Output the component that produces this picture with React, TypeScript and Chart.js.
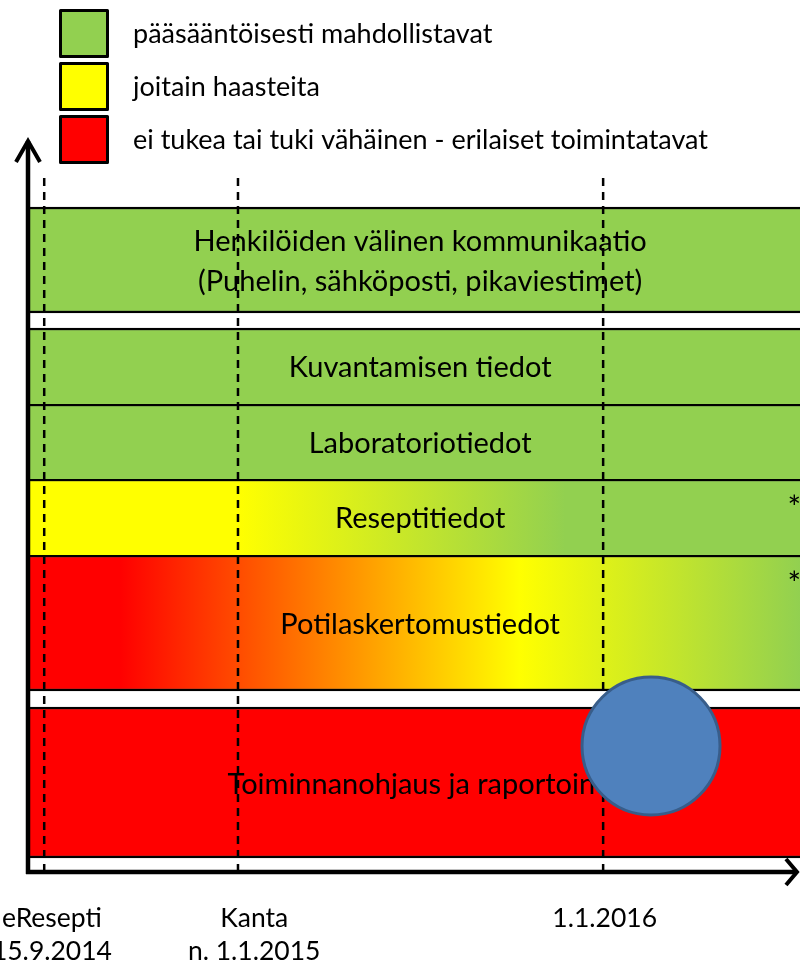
import React, { useEffect, useRef } from 'react';
import { Chart, registerables } from 'chart.js';

Chart.register(...registerables);

const FONT = 'Lato, "Open Sans", sans-serif';

// Legend
const legendLabels = [
  'pääsääntöisesti mahdollistavat',
  'joitain haasteita',
  'ei tukea tai tuki vähäinen - erilaiset toimintatavat',
];
const legendColors = ['#92D050', '#FFFF00', '#FF0000'];

// Bands (vertical extent in schematic y units, 0 = time axis)
const bandNames = [
  ['Henkilöiden välinen kommunikaatio', '(Puhelin, sähköposti, pikaviestimet)'],
  ['Kuvantamisen tiedot'],
  ['Laboratoriotiedot'],
  ['Reseptitiedot'],
  ['Potilaskertomustiedot'],
  ['Toiminnanohjaus ja raportointi'],
];
const bandLow = [55.9, 46.8, 39.3, 31.7, 18.1, 1.4];
const bandHigh = [66.5, 54.4, 46.8, 39.3, 31.7, 16.5];
const bandNotes = ['', '', '', '*', '*', ''];

// Colour change along the timeline (x units 0..100) for each band
const bandStopX = [[0], [0], [0], [27.2, 69.6], [11.9, 63.7, 100], [0]];
const bandStopColor = [
  ['#92D050'],
  ['#92D050'],
  ['#92D050'],
  ['#FFFF00', '#92D050'],
  ['#FF0000', '#FFFF00', '#92D050'],
  ['#FF0000'],
];

// Milestones on the timeline
const milestoneX = [2.1, 27.2, 74.5];
const milestoneLabelX = [3.1, 29.3, 74.7];
const milestoneLabels = [['eResepti', '15.9.2014'], ['Kanta', 'n. 1.1.2015'], ['1.1.2016']];
const milestoneTop = 69.4;

// Marker circle
const markerPoint = [{ x: 80.7, y: 12.6, r: 69 }];

const X_MAX = 100;
const Y_MAX = 73.5;
const BAR_TEXT_X = 50.8;

const legendPlugin = {
  id: 'customLegend',
  afterDraw(chart: any) {
    const ctx = chart.ctx;
    const left = chart.chartArea.left + 32;
    ctx.save();
    legendLabels.forEach((label, i) => {
      const top = 10 + i * 53;
      ctx.fillStyle = legendColors[i];
      ctx.strokeStyle = '#000';
      ctx.lineWidth = 3;
      ctx.lineJoin = 'round';
      ctx.beginPath();
      ctx.rect(left + 0.5, top + 0.5, 47, 46);
      ctx.fill();
      ctx.stroke();
      ctx.fillStyle = '#000';
      ctx.font = `27px ${FONT}`;
      ctx.textBaseline = 'middle';
      ctx.textAlign = 'left';
      ctx.fillText(label, left + 73, top + 24);
    });
    ctx.restore();
  },
};

const barTextPlugin = {
  id: 'barText',
  afterDatasetDraw(chart: any, args: any) {
    const meta = args.meta;
    if (meta.type !== 'bar') return;
    const i = args.index;
    const el = meta.data[0];
    if (!el) return;
    const top = Math.min(el.y, el.base);
    const bottom = Math.max(el.y, el.base);
    const cx = chart.scales.x2.getPixelForValue(BAR_TEXT_X);
    const cy = (top + bottom) / 2 + 2;
    const ctx = chart.ctx;
    ctx.save();
    ctx.fillStyle = '#000';
    ctx.font = `29px ${FONT}`;
    ctx.textAlign = 'center';
    ctx.textBaseline = 'middle';
    const lines = bandNames[i];
    const lh = 40;
    lines.forEach((t, k) => {
      ctx.fillText(t, cx, cy + (k - (lines.length - 1) / 2) * lh);
    });
    if (bandNotes[i]) {
      ctx.font = `32px ${FONT}`;
      ctx.textAlign = 'right';
      ctx.fillText(bandNotes[i], chart.chartArea.right + 1, top + 30);
    }
    ctx.restore();
  },
};

const axesPlugin = {
  id: 'arrowAxes',
  afterDatasetsDraw(chart: any) {
    const ctx = chart.ctx;
    const xs = chart.scales.x2;
    const ys = chart.scales.y;
    const x0 = xs.getPixelForValue(0);
    const y0 = ys.getPixelForValue(0);
    const yTop = ys.getPixelForValue(Y_MAX) + 4;
    const xEnd = xs.getPixelForValue(X_MAX) - 3;
    ctx.save();
    ctx.strokeStyle = '#000';
    ctx.lineWidth = 4.5;
    ctx.lineJoin = 'miter';
    ctx.lineCap = 'butt';
    ctx.beginPath();
    ctx.moveTo(x0, y0 + 2);
    ctx.lineTo(x0, yTop);
    ctx.moveTo(x0 - 2, y0);
    ctx.lineTo(xEnd, y0);
    ctx.stroke();
    ctx.lineWidth = 4;
    ctx.beginPath();
    ctx.moveTo(x0 - 12, yTop + 21);
    ctx.lineTo(x0, yTop);
    ctx.lineTo(x0 + 12, yTop + 21);
    ctx.moveTo(xEnd - 11, y0 - 13);
    ctx.lineTo(xEnd, y0);
    ctx.lineTo(xEnd - 11, y0 + 13);
    ctx.stroke();

    // milestone labels under the time axis
    ctx.fillStyle = '#000';
    ctx.font = `26.5px ${FONT}`;
    ctx.textAlign = 'center';
    ctx.textBaseline = 'middle';
    milestoneLabels.forEach((lines, i) => {
      const px = xs.getPixelForValue(milestoneLabelX[i]);
      lines.forEach((t, k) => ctx.fillText(t, px, y0 + 46 + k * 33));
    });
    ctx.restore();
  },
};

export default function App() {
  const canvasRef = useRef<HTMLCanvasElement | null>(null);

  useEffect(() => {
    document.body.style.margin = '0';
    document.body.style.overflow = 'hidden';
    const canvas = canvasRef.current;
    if (!canvas) return;

    const barDatasets = bandNames.map((name, i) => ({
      type: 'bar' as const,
      label: name.join(' '),
      data: [[bandLow[i], bandHigh[i]]],
      xAxisID: 'x',
      yAxisID: 'y',
      grouped: false,
      categoryPercentage: 1,
      barPercentage: 1,
      order: 3,
      borderColor: '#000',
      borderSkipped: false as const,
      borderWidth: {
        top: 2.5,
        bottom: bandHigh.includes(bandLow[i]) ? 0 : 2.5,
        left: 0,
        right: 0,
      },
      backgroundColor: (c: any) => {
        const stopsX = bandStopX[i];
        const stopsC = bandStopColor[i];
        const chart = c.chart;
        if (stopsX.length === 1 || !chart.chartArea) return stopsC[0];
        const xs = chart.scales.x2;
        const p0 = xs.getPixelForValue(stopsX[0]);
        const p1 = xs.getPixelForValue(stopsX[stopsX.length - 1]);
        const g = chart.ctx.createLinearGradient(p0, 0, p1, 0);
        stopsX.forEach((v, k) => {
          const p = xs.getPixelForValue(v);
          g.addColorStop(Math.min(1, Math.max(0, (p - p0) / (p1 - p0))), stopsC[k]);
        });
        return g;
      },
    }));

    const lineDatasets = milestoneX.map((mx, i) => ({
      type: 'line' as const,
      label: 'milestone ' + i,
      data: [
        { x: mx, y: milestoneTop },
        { x: mx, y: 0 },
      ],
      xAxisID: 'x2',
      yAxisID: 'y',
      borderColor: '#000',
      borderWidth: 2.5,
      borderDash: [8, 6],
      pointRadius: 0,
      fill: false,
      order: 2,
    }));

    const bubbleDataset = {
      type: 'bubble' as const,
      label: 'marker',
      data: markerPoint,
      xAxisID: 'x2',
      yAxisID: 'y',
      backgroundColor: '#4F81BD',
      borderColor: '#385D8A',
      borderWidth: 3,
      order: 1,
    };

    const chart = new Chart(canvas, {
      type: 'bar',
      data: {
        labels: [''],
        datasets: [...barDatasets, ...lineDatasets, bubbleDataset] as any,
      },
      options: {
        animation: false,
        responsive: false,
        events: [],
        layout: {
          padding: { left: 28, right: 0, top: 137, bottom: 0 },
          autoPadding: false,
        } as any,
        plugins: {
          legend: { display: false },
          tooltip: { enabled: false },
        },
        scales: {
          x: { type: 'category', display: false },
          x2: {
            type: 'linear',
            position: 'bottom',
            offset: false,
            min: 0,
            max: X_MAX,
            grid: { display: false, drawTicks: false, offset: false },
            border: { display: false },
            ticks: { display: false },
            afterFit: (s: any) => {
              s.height = 91;
            },
          },
          y: { type: 'linear', display: false, min: 0, max: Y_MAX },
        },
      } as any,
      plugins: [barTextPlugin, axesPlugin, legendPlugin],
    });

    return () => chart.destroy();
  }, []);

  return (
    <div style={{ width: 800, height: 963, background: '#fff' }}>
      <canvas ref={canvasRef} width={800} height={963} style={{ display: 'block' }} />
    </div>
  );
}
